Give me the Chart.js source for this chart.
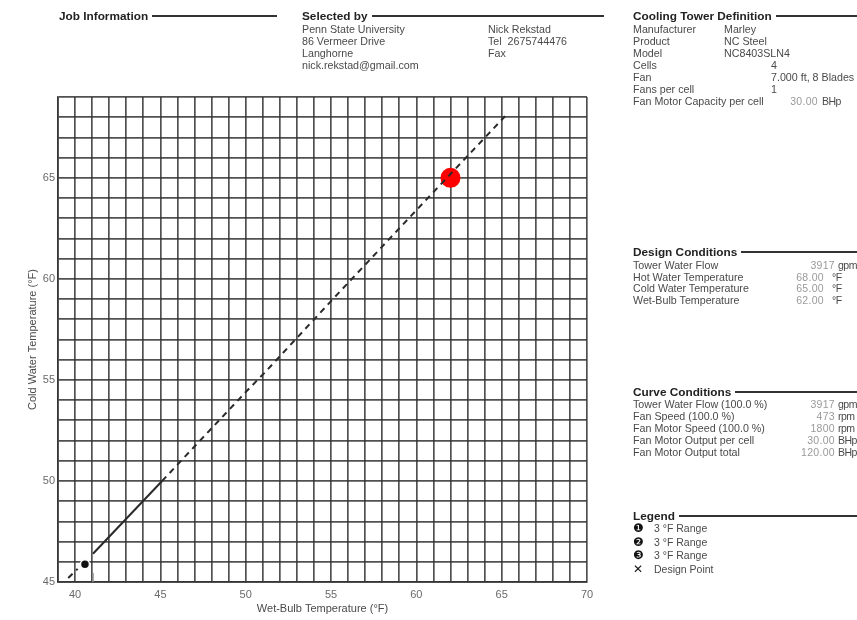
<!DOCTYPE html>
<html>
<head>
<meta charset="utf-8">
<script src="https://cdn.jsdelivr.net/npm/chart.js@4.4.1/dist/chart.umd.min.js"></script>
<style>
  html, body { margin: 0; padding: 0; background: #fff; }
  body { width: 857px; height: 620px; position: relative; overflow: hidden;
         font-family: "Liberation Sans", Arial, sans-serif; color: #444; }
  #wrap { position: absolute; left: 0; top: 0; width: 857px; height: 620px; }
  .hdr { position: absolute; display: flex; align-items: center; height: 14px;
         font-weight: bold; font-size: 11.8px; color: #222; white-space: nowrap; }
  .hdr .rule { flex: 1; height: 2px; background: #333; margin-left: 4px; }
  .row { position: absolute; font-size: 10.7px; line-height: 12px; height: 12px; white-space: pre; color: #4a4a4a; }
  .num { position: absolute; font-size: 10.5px; line-height: 12px; color: #9a9a9a; text-align: right; white-space: nowrap; letter-spacing: 0.3px; }
  .unit { position: absolute; font-size: 10.5px; line-height: 12px; color: #4a4a4a; white-space: nowrap; letter-spacing: -0.5px; }
  .leg { position: absolute; font-size: 10.5px; line-height: 13px; color: #4a4a4a; white-space: nowrap; }
  .leg .sym { display: inline-block; width: 21px; font-family: "DejaVu Sans"; color: #111; font-size: 12px; }
</style>
</head>
<body>
<div id="wrap"><canvas id="c" width="857" height="620"></canvas></div>
<div id="panels"></div>
<script>
// Chart scales (°F)
const wetBulbMin = 39, wetBulbMax = 70;
const coldWaterMin = 45, coldWaterMax = 69;
const tickLabelStep = 5;

// 3 °F range curve: wet-bulb vs cold water temperature (null = gap at the curve label)
const rangeWetBulb   = [39.6, 40.15, 40.6, 41.05, 45.1, 50.0, 51.1, 55.0, 60.0, 65.2];
const rangeColdWater = [45.2, 45.65, null, 46.4, 50.0, 54.4, 55.35, 58.9, 63.4, 68.05];
const solidFrom = 41.0, solidTo = 45.1;

// Curve label marker
const labelWetBulb = [40.58];
const labelColdWater = [45.88];
const labelTickWetBulb = [41.05, 41.05];
const labelTickColdWater = [45.0, 45.45];

// Design point
const designWetBulb = [62.0];
const designColdWater = [65.0];

// Side panels
const jobTitle = "Job Information";
const selectedTitle = "Selected by";
const selectedLeft = ["Penn State University", "86 Vermeer Drive", "Langhorne", "nick.rekstad@gmail.com"];
const selectedRight = ["Nick Rekstad", "Tel  2675744476", "Fax"];
const towerTitle = "Cooling Tower Definition";
const towerLabels = ["Manufacturer", "Product", "Model", "Cells", "Fan", "Fans per cell", "Fan Motor Capacity per cell"];
const towerValues = ["Marley", "NC Steel", "NC8403SLN4", "4", "7.000 ft, 8 Blades", "1", ""];
const designTitle = "Design Conditions";
const designLabels = ["Tower Water Flow", "Hot Water Temperature", "Cold Water Temperature", "Wet-Bulb Temperature"];
const designNums = ["3917", "68.00", "65.00", "62.00"];
const designUnits = ["gpm", "°F", "°F", "°F"];
const curveTitle = "Curve Conditions";
const curveLabels = ["Tower Water Flow (100.0 %)", "Fan Speed (100.0 %)", "Fan Motor Speed (100.0 %)", "Fan Motor Output per cell", "Fan Motor Output total"];
const curveNums = ["3917", "473", "1800", "30.00", "120.00"];
const curveUnits = ["gpm", "rpm", "rpm", "BHp", "BHp"];
const legendTitle = "Legend";
const legendSymbols = ["❶", "❷", "❸", "✕"];
const legendLabels = ["3 °F Range", "3 °F Range", "3 °F Range", "Design Point"];

// ---------- panels ----------
const panels = document.getElementById('panels');
function el(cls, html, style) {
  const d = document.createElement('div');
  d.className = cls; d.innerHTML = html;
  Object.assign(d.style, style);
  panels.appendChild(d);
  return d;
}
function header(text, left, top, width) {
  el('hdr', '<span>' + text + '</span><span class="rule"></span>',
     { left: left + 'px', top: top + 'px', width: width + 'px' });
}
header(jobTitle, 59, 9, 218);
header(selectedTitle, 302, 9, 302);
selectedLeft.forEach((t, i) => el('row', t, { left: '302px', top: (23 + i * 12) + 'px' }));
selectedRight.forEach((t, i) => el('row', t, { left: '488px', top: (23 + i * 12) + 'px' }));

header(towerTitle, 633, 9, 224);
towerLabels.forEach((t, i) => el('row', t, { left: '633px', top: (23 + i * 12) + 'px' }));
towerValues.forEach((t, i) => {
  if (!t) return;
  el('row', t, { left: (i < 3 ? 724 : 771) + 'px', top: (23 + i * 12) + 'px' });
});
el('num', '30.00', { left: '758px', width: '60px', top: (23 + 6 * 12) + 'px' });
el('unit', 'BHp', { left: '822px', top: (23 + 6 * 12) + 'px' });

header(designTitle, 633, 245, 224);
designLabels.forEach((t, i) => el('row', t, { left: '633px', top: (259 + i * 11.7) + 'px' }));
designNums.forEach((t, i) => {
  const right = i === 0 ? 835 : 824;
  el('num', t, { left: (right - 60) + 'px', width: '60px', top: (259 + i * 11.7) + 'px' });
  el('unit', designUnits[i], { left: (right + (i === 0 ? 3 : 8)) + 'px', top: (259 + i * 11.7) + 'px' });
});

header(curveTitle, 633, 385, 224);
curveLabels.forEach((t, i) => el('row', t, { left: '633px', top: (398 + i * 12) + 'px' }));
curveNums.forEach((t, i) => {
  el('num', t, { left: '775px', width: '60px', top: (398 + i * 12) + 'px' });
  el('unit', curveUnits[i], { left: '838px', top: (398 + i * 12) + 'px' });
});

header(legendTitle, 633, 509, 224);
legendLabels.forEach((t, i) => el('leg', '<span class="sym">' + legendSymbols[i] + '</span>' + t,
  { left: '633px', top: (522 + i * 13.6) + 'px' }));

// ---------- chart ----------
const pts = (xs, ys) => xs.map((x, i) => ({ x: x, y: ys[i] }));
const gridColor = 'rgba(50,50,50,0.85)';
const dash = [6, 5];

new Chart(document.getElementById('c'), {
  type: 'scatter',
  data: {
    datasets: [
      {
        label: '3 °F Range',
        data: pts(rangeWetBulb, rangeColdWater),
        showLine: true,
        spanGaps: false,
        borderColor: '#2a2a2a',
        borderWidth: 2,
        pointRadius: 0,
        segment: {
          borderDash: ctx => (ctx.p0.parsed.x >= solidFrom && ctx.p1.parsed.x <= solidTo) ? [] : dash
        }
      },
      {
        label: 'range tick',
        data: pts(labelTickWetBulb, labelTickColdWater),
        showLine: true,
        borderColor: '#8a8a8a',
        borderWidth: 1.5,
        pointRadius: 0
      },
      {
        label: 'curve label',
        data: pts(labelWetBulb, labelColdWater),
        pointStyle: 'circle',
        pointRadius: 4.5,
        backgroundColor: '#111',
        borderColor: '#fff',
        borderWidth: 1.5
      },
      {
        label: 'Design Point',
        data: pts(designWetBulb, designColdWater),
        pointStyle: 'circle',
        pointRadius: 10,
        backgroundColor: '#ff0000',
        borderColor: '#ff0000',
        borderWidth: 0
      }
    ]
  },
  options: {
    responsive: false,
    animation: false,
    devicePixelRatio: 1,
    layout: { padding: { left: 0, top: 97, right: 270, bottom: 0 } },
    plugins: { legend: { display: false }, tooltip: { enabled: false } },
    scales: {
      x: {
        type: 'linear',
        min: wetBulbMin, max: wetBulbMax,
        afterFit: s => { s.height = 38; },
        ticks: {
          stepSize: 1, autoSkip: false, maxRotation: 0, padding: 6,
          color: '#6a6a6a', font: { family: 'Liberation Sans', size: 11 },
          callback: v => (v % tickLabelStep === 0 && v >= 40) ? v : ''
        },
        grid: { color: gridColor, lineWidth: 1.7, drawTicks: false },
        border: { color: gridColor, width: 1.7 },
        title: {
          display: true, text: 'Wet-Bulb Temperature (°F)',
          color: '#4a4a4a', font: { family: 'Liberation Sans', size: 11 },
          padding: { top: 0, bottom: 4 }
        }
      },
      y: {
        type: 'linear',
        min: coldWaterMin, max: coldWaterMax,
        afterFit: s => { s.width = 58; },
        ticks: {
          stepSize: 1, autoSkip: false, padding: 3,
          color: '#6a6a6a', font: { family: 'Liberation Sans', size: 11 },
          callback: v => (v % tickLabelStep === 0) ? v : ''
        },
        grid: { color: gridColor, lineWidth: 1.7, drawTicks: false },
        border: { color: gridColor, width: 1.7 },
        title: {
          display: true, text: 'Cold Water Temperature (°F)',
          color: '#4a4a4a', font: { family: 'Liberation Sans', size: 11 },
          padding: { top: 26, bottom: 0 }
        }
      }
    }
  }
});
</script>
</body>
</html>
